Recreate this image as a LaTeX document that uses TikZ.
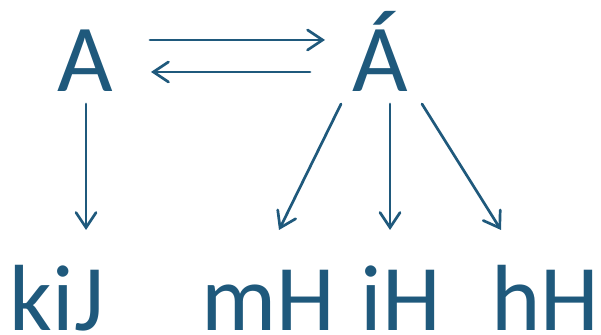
\documentclass[tikz,border=0pt]{standalone}
\usepackage{fontspec}
\setmainfont{Carlito}
\usetikzlibrary{arrows.meta,calc}
\definecolor{ink}{RGB}{31,89,124}
\begin{document}
\begin{tikzpicture}[x=1pt,y=1pt,
  lbl/.style={anchor=base,inner sep=0pt,text=ink,font=\fontsize{96}{96}\selectfont},
  low/.style={lbl,font=\fontsize{94}{94}\selectfont},
  conn/.style={draw=ink,line width=2.7pt,line cap=round,-{Straight Barb[length=15pt,width=20pt,line cap=round]}}]
\useasboundingbox (0,0) rectangle (601,334);
\node[lbl] (A) at (85.5,242) {A};
\node[lbl] (Aa) at (380,242) {Á};
\node[low] (kiJ) at (57,4) {kiJ};
\node[low] (mH) at (268.5,4) {mH};
\node[low] (iH) at (401,4) {iH};
\node[low] (hH) at (545,4) {hH};
\draw[conn] ($(A.base)+(64.5,52)$) -- ($(Aa.base)+(-55,52)$);
\draw[conn] ($(Aa.base)+(-70,20)$) -- ($(A.base)+(65.5,20)$);
\draw[conn] ($(A.base)+(0.5,-12)$) -- ($(A.base |- kiJ.base)+(0.5,100)$);
\draw[conn] ($(Aa.base)+(-39,-12)$) -- ($(mH.base)+(10.5,100)$);
\draw[conn] ($(Aa.base)+(10,-12)$) -- ($(iH.base)+(-11,100)$);
\draw[conn] ($(Aa.base)+(42,-12)$) -- ($(hH.base)+(-44,100)$);
\end{tikzpicture}
\end{document}
